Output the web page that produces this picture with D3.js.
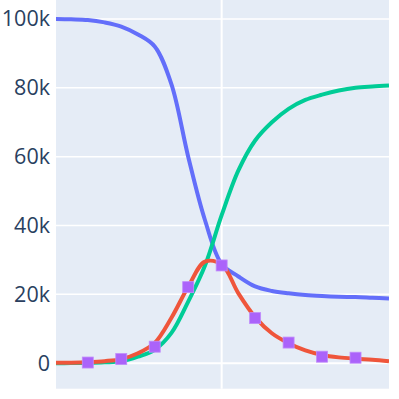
<!DOCTYPE html>
<html><head><meta charset="utf-8">
<script src="https://cdn.jsdelivr.net/npm/d3@7"></script>
<style>html,body{margin:0;padding:0;background:#fff;}svg{display:block;}</style>
</head><body>
<script>
const t = [0,0.5,1,1.5,2,2.5,3,3.5,4,4.5,5,5.5,6,6.5,7,7.5,8,8.5,9,9.5,10];
const susceptible = [100000,99900,99700,99000,97800,95500,92000,81000,60000,41600,28800,25200,22300,21000,20300,19800,19500,19300,19200,19000,18800];
const infected = [100,150,300,600,1200,2900,5900,13200,22200,29500,28700,20300,13400,8700,5800,3700,2400,1700,1300,1000,600];
const recovered = [0,30,100,250,550,1900,3900,8800,17900,28300,43000,56000,64700,70000,73900,76500,78000,79200,80000,80400,80700];
const obsT = [1,2,3,4,5,6,7,8,9];
const observed = [200,1200,4800,22100,28400,13100,6000,1900,1600];
const yTicks = [0,20000,40000,60000,80000,100000];
const yTickLabels = ["0","20k","40k","60k","80k","100k"];
const xGrid = [5];

const W = 399, H = 399;
const L = 56, R = 389, T = 0, B = 388.7;
const svg = d3.select("body").append("svg").attr("width", W).attr("height", H);
const x = d3.scaleLinear().domain([0.05,10]).range([L,R]);
const y = d3.scaleLinear().domain([-7400,105500]).range([B,T]);

svg.append("rect").attr("x",L).attr("y",T).attr("width",R-L).attr("height",B-T).attr("fill","#E5ECF6");
svg.append("clipPath").attr("id","clip").append("rect").attr("x",L).attr("y",T).attr("width",R-L).attr("height",B-T);

const yAxis = d3.axisLeft(y).tickValues(yTicks).tickFormat((d,i)=>yTickLabels[i]).tickSize(0).tickPadding(5);
const gy = svg.append("g").attr("transform",`translate(${L-1},0)`).call(yAxis);
gy.select(".domain").remove();
gy.selectAll("text").attr("font-family","'Open Sans', sans-serif").attr("font-size","21.5px").attr("fill","#2a3f5f");

svg.append("g").selectAll("line").data(yTicks).join("line")
  .attr("x1",L).attr("x2",R).attr("y1",d=>y(d)).attr("y2",d=>y(d))
  .attr("stroke","#fff").attr("stroke-width",d=>d===0?2:1.5);
svg.append("g").selectAll("line").data(xGrid).join("line")
  .attr("x1",d=>x(d)).attr("x2",d=>x(d)).attr("y1",T).attr("y2",B)
  .attr("stroke","#fff").attr("stroke-width",2);

const g = svg.append("g").attr("clip-path","url(#clip)");
const line = d3.line().x((d,i)=>x(t[i])).y(d=>y(d)).curve(d3.curveCatmullRom.alpha(0.5));
[[susceptible,"#636EFA"],[recovered,"#00CC96"],[infected,"#EF553B"]].forEach(([s,c])=>{
  g.append("path").datum(s).attr("d",line).attr("fill","none").attr("stroke",c)
   .attr("stroke-width",4).attr("stroke-linejoin","round");
});
const ms = 11;
g.selectAll("rect.m").data(observed).join("rect").attr("class","m")
  .attr("x",(d,i)=>x(obsT[i])-ms/2).attr("y",d=>y(d)-ms/2)
  .attr("width",ms).attr("height",ms).attr("fill","#AB63FA")
  .attr("stroke","#c08cfb").attr("stroke-width",0.8);
</script>
</body></html>
